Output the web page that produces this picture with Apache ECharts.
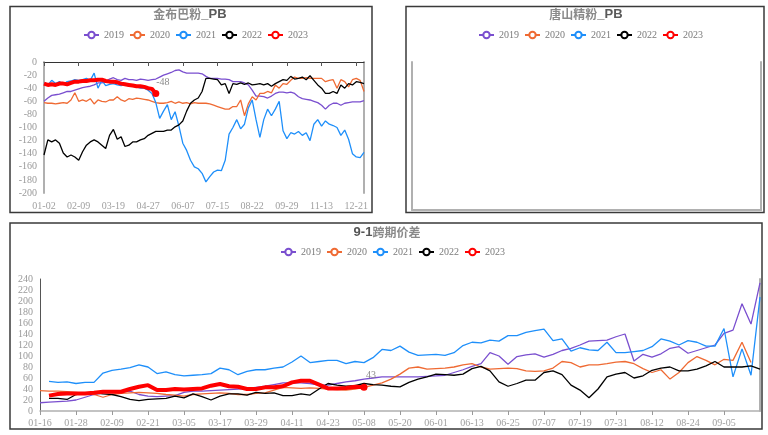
<!DOCTYPE html>
<html><head><meta charset="utf-8">
<script src="https://cdn.jsdelivr.net/npm/echarts@6/dist/echarts.min.js"></script>
<style>html,body{margin:0;padding:0;background:#fff}#c{width:768px;height:435px}</style>
</head><body><div id="c"></div>
<script>
// ---------- top-left chart: 金布巴粉_PB ----------
const catsTop = ['01-02','01-07','01-10','01-15','01-18','01-23','01-28','01-31','02-04','02-09',
'02-14','02-17','02-22','02-25','03-01','03-04','03-09','03-14','03-19','03-24',
'03-27','04-01','04-06','04-09','04-14','04-17','04-22','04-27','05-04','05-09',
'05-12','05-17','05-20','05-25','05-28','06-02','06-07','06-10','06-15','06-18',
'06-23','06-26','07-01','07-06','07-09','07-15','07-18','07-23','07-26','07-31',
'08-05','08-08','08-13','08-16','08-22','08-27','08-30','09-04','09-07','09-12',
'09-15','09-20','09-25','09-29','10-10','10-15','10-18','10-23','10-28','10-31',
'11-05','11-08','11-13','11-18','11-21','11-26','11-29','12-04','12-09','12-12',
'12-17','12-21','12-26','12-31'];
const top2019 = [-60,-55,-51,-50,-49,-47,-45,-45,-43,-41,-39,-38,-37,-35,-32,-32,-30,-26,-24,-27,-28,-25,-27,-27,-28,-26,-27,-28,-27,-26,-23,-20,-18,-16,-13,-12,-15,-17,-17,-17,-17,-18,
-22,-25,-25,-25,-26,-26,-27,-30,-30,-30,-32,-35,-43,-52,-52,-53,-55,-52,-48,-46,-46,-47,-46,-48,-53,-56,-57,-58,-60,-62,-66,-72,-66,-63,-63,-66,-63,-62,-61,-61,-61,-59];
const top2020 = [-62,-63,-63,-64,-63,-62,-63,-58,-47,-60,-58,-60,-56,-64,-58,-60,-61,-58,-58,-53,-58,-60,-56,-57,-55,-56,-57,-58,-60,-62,-63,-63,-62,-60,-63,-61,-63,-62,-64,-62,-63,-63,-63,-64,-66,-68,
-70,-72,-72,-68,-68,-58,-82,-64,-53,-58,-48,-48,-45,-47,-35,-40,-33,-34,-28,-23,-25,-25,-24,-25,-25,-25,-25,-30,-28,-27,-40,-27,-30,-38,-27,-25,-28,-45];
const top2021 = [-32,-35,-28,-33,-30,-34,-30,-29,-27,-28,-27,-25,-28,-17,-40,-28,-36,-34,-33,-35,-36,-34,-37,-36,-38,-40,-40,-43,
-48,-62,-86,-75,-65,-88,-76,-98,-124,-135,-150,-160,-163,-170,-183,-175,-168,-165,-166,-150,-110,-100,-88,-102,-95,-70,-58,-88,-115,-88,-72,-82,-72,-60,-105,-117,-108,-110,-106,-112,-108,-120,-95,-88,-98,-90,-95,-97,-100,-112,-104,-118,-140,-145,-146,-138];
const top2022 = [-142,-119,-122,-119,-124,-139,-145,-142,-145,-150,-137,-127,-122,-119,-122,-127,-132,-112,-103,-118,-114,-129,-127,-122,-122,-119,-117,-112,-109,-106,-106,-106,-104,-104,-99,-96,
-90,-75,-63,-58,-55,-45,-25,
-25,-26,-27,-35,-33,-48,-33,-34,-32,-34,-32,-35,-34,-33,-35,-33,-37,-33,-30,-27,-28,-22,-26,-25,-23,-27,-21,-28,-35,-40,-48,-48,-45,-48,-35,-40,-33,-35,-30,-31,-33];
const top2023 = [-33,-35,-34,-35,-33,-33,-34,-32,-30,-30,-29,-29,-28,-28,-27,-27,-29,-30,-30,-31,-33,-34,-35,-36,-37,-37,-38,-40,-41,-48];

// ---------- bottom chart: 9-1跨期价差 ----------
const catsBot = ['01-16','01-19','01-22','01-25','01-28','01-31','02-03','02-06','02-09','02-12',
'02-15','02-18','02-21','02-24','02-27','03-02','03-05','03-08','03-11','03-14',
'03-17','03-20','03-23','03-26','03-29','04-01','04-04','04-08','04-11','04-14',
'04-17','04-20','04-23','04-26','04-29','05-04','05-08','05-11','05-14','05-17',
'05-20','05-23','05-26','05-29','06-01','06-04','06-07','06-10','06-13','06-16',
'06-19','06-22','06-25','06-28','07-01','07-04','07-07','07-10','07-13','07-16',
'07-19','07-22','07-25','07-28','07-31','08-03','08-06','08-09','08-12','08-15',
'08-18','08-21','08-24','08-27','08-30','09-02','09-05','09-08','09-11','09-14','09-17'];
const bot2019 = [15,16,17,18,20,25,30,33,35,35,36,30,27,26,27,28,34,36,36,37,38,39,40,41,43,45,48,51,
51,51,50,47,47,50,53,55,58,60,
62,62,62,62,62,63,64,65,70,75,81,86,106,100,85,99,102,104,98,103,110,114,120,127,128,129,135,140,91,103,98,104,114,117,105,110,115,120,141,147,195,158,233];
const bot2020 = [37,36,36,35,34,32,30,25,30,32,33,34,33,32,30,29,27,30,31,32,33,32,30,30,32,33,38,43,42,41,42,41,40,39,38,40,43,47,51,58,67,
78,80,76,77,78,80,84,86,80,76,77,78,77,73,72,73,78,90,88,80,84,84,86,89,90,86,77,70,75,58,70,88,99,92,84,94,92,125,88,null];
const bot2021 = [null,54,52,53,50,52,52,69,74,76,79,84,80,68,71,66,64,65,66,68,78,75,66,72,75,75,78,80,89,100,88,90,92,92,86,90,88,97,112,110,118,
107,101,102,103,101,106,119,125,124,129,127,137,137,143,146,149,128,131,109,115,111,110,125,106,106,108,110,117,131,127,120,128,125,118,118,150,62,113,65,207];
const bot2022 = [null,23,23,21,30,33,33,31,30,26,21,19,21,22,23,27,24,31,26,20,27,31,31,29,34,32,33,28,
28,31,29,40,50,47,45,46,50,48,
47,45,44,52,58,62,67,66,65,67,77,81,73,53,45,50,
56,56,70,73,66,47,38,24,40,62,67,70,60,64,74,78,80,73,73,76,82,90,80,80,80,82,76];
const bot2023 = [null,28,31,32,32,32,33,35,35,35,40,44,47,38,38,40,39,40,41,46,49,45,44,40,40,43,43,45,52,55,55,48,41,41,42,44,43];

const years = ['2019','2020','2021','2022','2023'];
const colors = {'2019':'#7a4fcf','2020':'#ef6a33','2021':'#1e8ffa','2022':'#000000','2023':'#ff0000'};

const serif = 'Liberation Serif';
const grayLine = '#b0b0b0';
const botLabelStep = 4;
const botLastLabel = catsBot.indexOf('09-05');
const botTickFn = (i) => i % botLabelStep === 0 && i <= botLastLabel;

function mkLine(name, data, xi, yi, last) {
  const s = {
    type:'line', name, data, xAxisIndex:xi, yAxisIndex:yi,
    showSymbol:false, symbol:'emptyCircle',
    lineStyle:{width: name==='2023'?4:1.3, color:colors[name]},
    itemStyle:{color:colors[name]},
    emphasis:{disabled:true}, z: name==='2023'?5:3
  };
  if (last) {
    const li = data.length-1;
    s.markPoint = {
      symbol:'circle', symbolSize:7, itemStyle:{color:colors[name]},
      label:{show:true, position:'top', offset:[7,2], color:'#8a8a8a', fontSize:10, fontFamily:serif, formatter: p => String(p.value)},
      data:[{coord:[li, data[li]], value:data[li]}]
    };
  }
  return s;
}

function legendAt(left, top) {
  return {data:years, left, top, orient:'horizontal', itemWidth:15, itemHeight:8, itemGap:5,
    padding:0, textStyle:{color:'#7a7a7a', fontSize:10, fontFamily:serif},
    lineStyle:{width:2}, selectedMode:false};
}

const chart = echarts.init(document.getElementById('c'), null, {renderer:'canvas'});
chart.setOption({
  animation:false,
  backgroundColor:'#fff',
  textStyle:{fontFamily:serif},
  title:[
    {text:'{a|金布巴粉}{b|_PB}', left:190, top:8, textAlign:'center', padding:0,
     textStyle:{rich:{a:{fontSize:12, color:'#8a8a8a', fontFamily:'Noto Sans CJK SC'}, b:{fontSize:13, fontWeight:'bold', color:'#5a5a5a', fontFamily:'Liberation Sans'}}}},
    {text:'{a|唐山精粉}{b|_PB}', left:586, top:8, textAlign:'center', padding:0,
     textStyle:{rich:{a:{fontSize:12, color:'#8a8a8a', fontFamily:'Noto Sans CJK SC'}, b:{fontSize:13, fontWeight:'bold', color:'#5a5a5a', fontFamily:'Liberation Sans'}}}},
    {text:'{b|9-1}{a|跨期价差}', left:387, top:226, textAlign:'center', padding:0,
     textStyle:{rich:{a:{fontSize:12, color:'#8a8a8a', fontFamily:'Noto Sans CJK SC'}, b:{fontSize:13, fontWeight:'bold', color:'#555', fontFamily:'Liberation Sans'}}}}
  ],
  legend:[legendAt(83,30), legendAt(478,30), legendAt(280,247)],
  grid:[
    {left:44, top:62, width:320, height:131, outerBoundsMode:'none'},
    {left:412, top:62, width:349, height:148, outerBoundsMode:'none'},
    {left:40, top:279, width:720, height:132, outerBoundsMode:'none'}
  ],
  xAxis:[
    {gridIndex:0, type:'category', data:catsTop, boundaryGap:false, position:'bottom',
     axisLine:{show:false, onZero:false}, axisTick:{show:false},
     axisLabel:{interval:8, color:'#a0a0a0', fontSize:10, fontFamily:serif, margin:8}, splitLine:{show:false}},
    {gridIndex:0, type:'category', data:catsTop, boundaryGap:false, position:'top',
     axisLine:{show:true, onZero:false, lineStyle:{color:'#333', width:1}},
     axisTick:{show:true, inside:true, interval:8, length:4, lineStyle:{color:'#555'}},
     axisLabel:{show:false}, splitLine:{show:false}},
    {gridIndex:1, type:'value', min:0, max:1, position:'bottom',
     axisLine:{show:true, onZero:false, lineStyle:{color:grayLine, width:2}}, axisTick:{show:false},
     axisLabel:{show:false}, splitLine:{show:false}},
    {gridIndex:2, type:'category', data:catsBot, boundaryGap:false, position:'bottom',
     axisLine:{show:true, onZero:false, lineStyle:{color:grayLine, width:1.5}},
     axisTick:{show:true, interval:botTickFn, length:4, lineStyle:{color:'#999'}},
     axisLabel:{interval:botTickFn, color:'#a0a0a0', fontSize:10, fontFamily:serif, margin:7}, splitLine:{show:false}}
  ],
  yAxis:[
    {gridIndex:0, type:'value', min:-200, max:0, interval:20, position:'left',
     axisLine:{show:true, lineStyle:{color:grayLine, width:2}}, axisTick:{show:false},
     axisLabel:{color:'#999', fontSize:10, fontFamily:serif, margin:7}, splitLine:{show:false}},
    {gridIndex:0, type:'value', min:-200, max:0, position:'right',
     axisLine:{show:true, lineStyle:{color:grayLine, width:2}}, axisTick:{show:false},
     axisLabel:{show:false}, splitLine:{show:false}},
    {gridIndex:1, type:'value', min:0, max:1, position:'left',
     axisLine:{show:true, lineStyle:{color:grayLine, width:2}}, axisTick:{show:false},
     axisLabel:{show:false}, splitLine:{show:false}},
    {gridIndex:1, type:'value', min:0, max:1, position:'right',
     axisLine:{show:true, lineStyle:{color:grayLine, width:2}}, axisTick:{show:false},
     axisLabel:{show:false}, splitLine:{show:false}},
    {gridIndex:2, type:'value', min:0, max:240, interval:20, position:'left',
     axisLine:{show:true, lineStyle:{color:'#555', width:1}}, axisTick:{show:false},
     axisLabel:{color:'#999', fontSize:10, fontFamily:serif, margin:7}, splitLine:{show:false}},
    {gridIndex:2, type:'value', min:0, max:240, position:'right',
     axisLine:{show:true, lineStyle:{color:grayLine, width:2}}, axisTick:{show:false},
     axisLabel:{show:false}, splitLine:{show:false}}
  ],
  series:[
    mkLine('2019', top2019, 0, 0),
    mkLine('2020', top2020, 0, 0),
    mkLine('2021', top2021, 0, 0),
    mkLine('2022', top2022, 0, 0),
    mkLine('2023', top2023, 0, 0, true),
    mkLine('2019', bot2019, 3, 4),
    mkLine('2020', bot2020, 3, 4),
    mkLine('2021', bot2021, 3, 4),
    mkLine('2022', bot2022, 3, 4),
    mkLine('2023', bot2023, 3, 4, true)
  ],
  graphic:[
    {type:'rect', silent:true, z:100, shape:{x:10, y:6.5, width:362, height:206}, style:{fill:'none', stroke:'#3a3a3a', lineWidth:1.5}},
    {type:'rect', silent:true, z:100, shape:{x:406, y:6.5, width:358, height:206}, style:{fill:'none', stroke:'#3a3a3a', lineWidth:1.5}},
    {type:'rect', silent:true, z:100, shape:{x:10, y:223, width:752, height:206}, style:{fill:'none', stroke:'#3a3a3a', lineWidth:1.5}}
  ]
});
</script>
</body></html>
